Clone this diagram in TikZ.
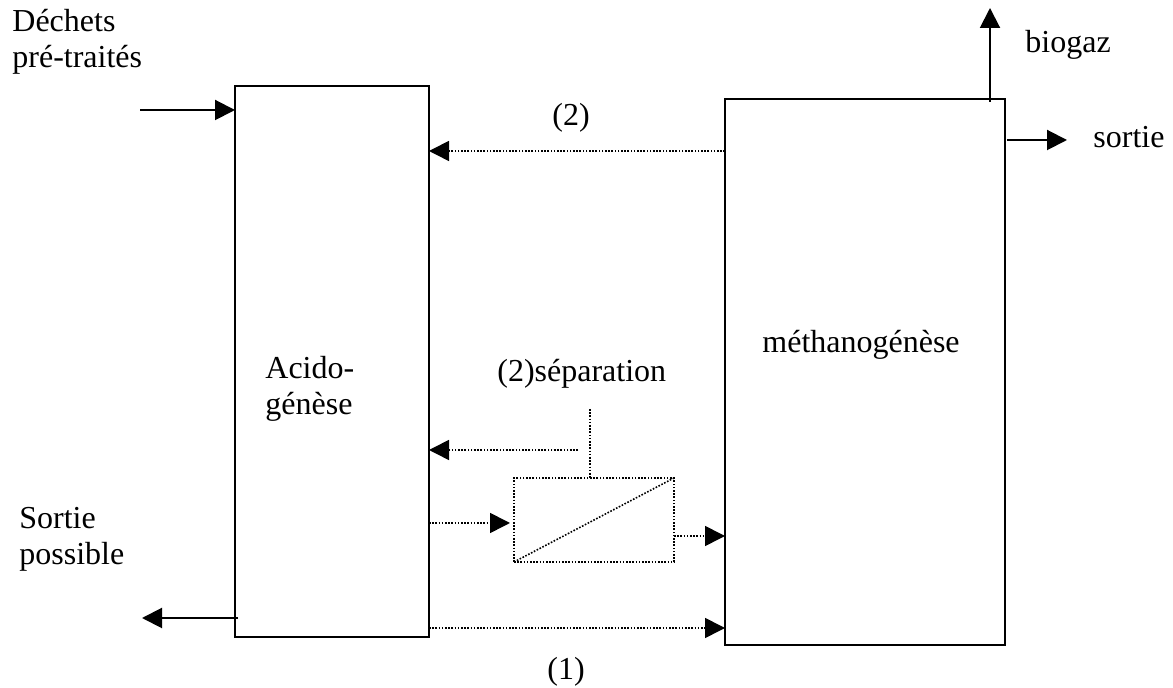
\documentclass[tikz,border=0pt]{standalone}
\usepackage{fontspec}
\setmainfont{Liberation Serif}
\usetikzlibrary{arrows.meta,positioning}

\begin{document}
\begin{tikzpicture}[x=0.5pt,y=-0.5pt,
  bloc/.style={draw,line width=1pt,outer sep=0pt,inner sep=0pt},
  pointille/.style={line width=.8pt,dash pattern=on .8pt off .8pt},
  fleche/.style={-{Triangle[length=10pt,width=10pt]},line width=1pt},
  flechep/.style={pointille,-{Triangle[length=10pt,width=10pt]}},
  etiq/.style={anchor=base west,inner sep=0pt,align=left,font=\fontsize{16}{18}\selectfont}
]
  \useasboundingbox (0,0) rectangle (1173,688);
  % reacteurs
  \node[bloc,minimum width=97pt,minimum height=275.5pt] (acido) at (332,361.5) {};
  \node[bloc,minimum width=140pt,minimum height=273pt] (methano) at (865,372) {};
  \node[bloc,pointille,minimum width=80pt,minimum height=42pt] (sep) at (594,520) {};
  \draw[pointille] (sep.south west) -- (sep.north east);

  % textes (base = derniere ligne)
  \node[etiq] (tacido) at (265,415) {Acido-\\génèse};
  \node[etiq] (tmethano) at (762,353) {méthanogénèse};
  \node[etiq] (tsep) at (497,382) {(2)séparation};
  \node[etiq] (tdechets) at (12,68) {Déchets\\pré-traités};
  \node[etiq] (tsortpos) at (19,565) {Sortie\\possible};
  \node[etiq] (tbiogaz) at (1025,53) {biogaz};
  \node[etiq] (tsortie) at (1093,148) {sortie};
  \node[etiq] (tdeux) at (552,126) {(2)};
  \node[etiq] (tun) at (547,680) {(1)};

  % points libres
  \coordinate (entree) at (140,110);
  \coordinate (sortpos) at (142,618);
  \coordinate (gaz) at (990,8);
  \coordinate (sortie) at (1067,140);
  \coordinate (retour) at (0,151);
  \coordinate (septop) at (590,409);
  \coordinate (sepret) at (578,450);
  \coordinate (alim) at (0,523);
  \coordinate (sepout) at (0,536);
  \coordinate (direct) at (0,628);

  % flux
  \draw[fleche] (entree) -- (entree -| acido.west);
  \draw[fleche] ([xshift=1.5pt]sortpos -| acido.west) -- (sortpos);
  \draw[fleche] ([yshift=-1.5pt]gaz |- methano.north) -- (gaz);
  \draw[fleche] ([xshift=1pt]sortie -| methano.east) -- (sortie);
  \draw[flechep] (methano.west |- retour) -- (acido.east |- retour);
  \draw[pointille] (septop) -- (septop |- sep.north);
  \draw[flechep] (sepret) -- (sepret -| acido.east);
  \draw[flechep] (acido.east |- alim) -- ([xshift=-2pt]sep.west |- alim);
  \draw[flechep] (sep.east |- sepout) -- (methano.west |- sepout);
  \draw[flechep] (acido.east |- direct) -- (methano.west |- direct);
\end{tikzpicture}
\end{document}
